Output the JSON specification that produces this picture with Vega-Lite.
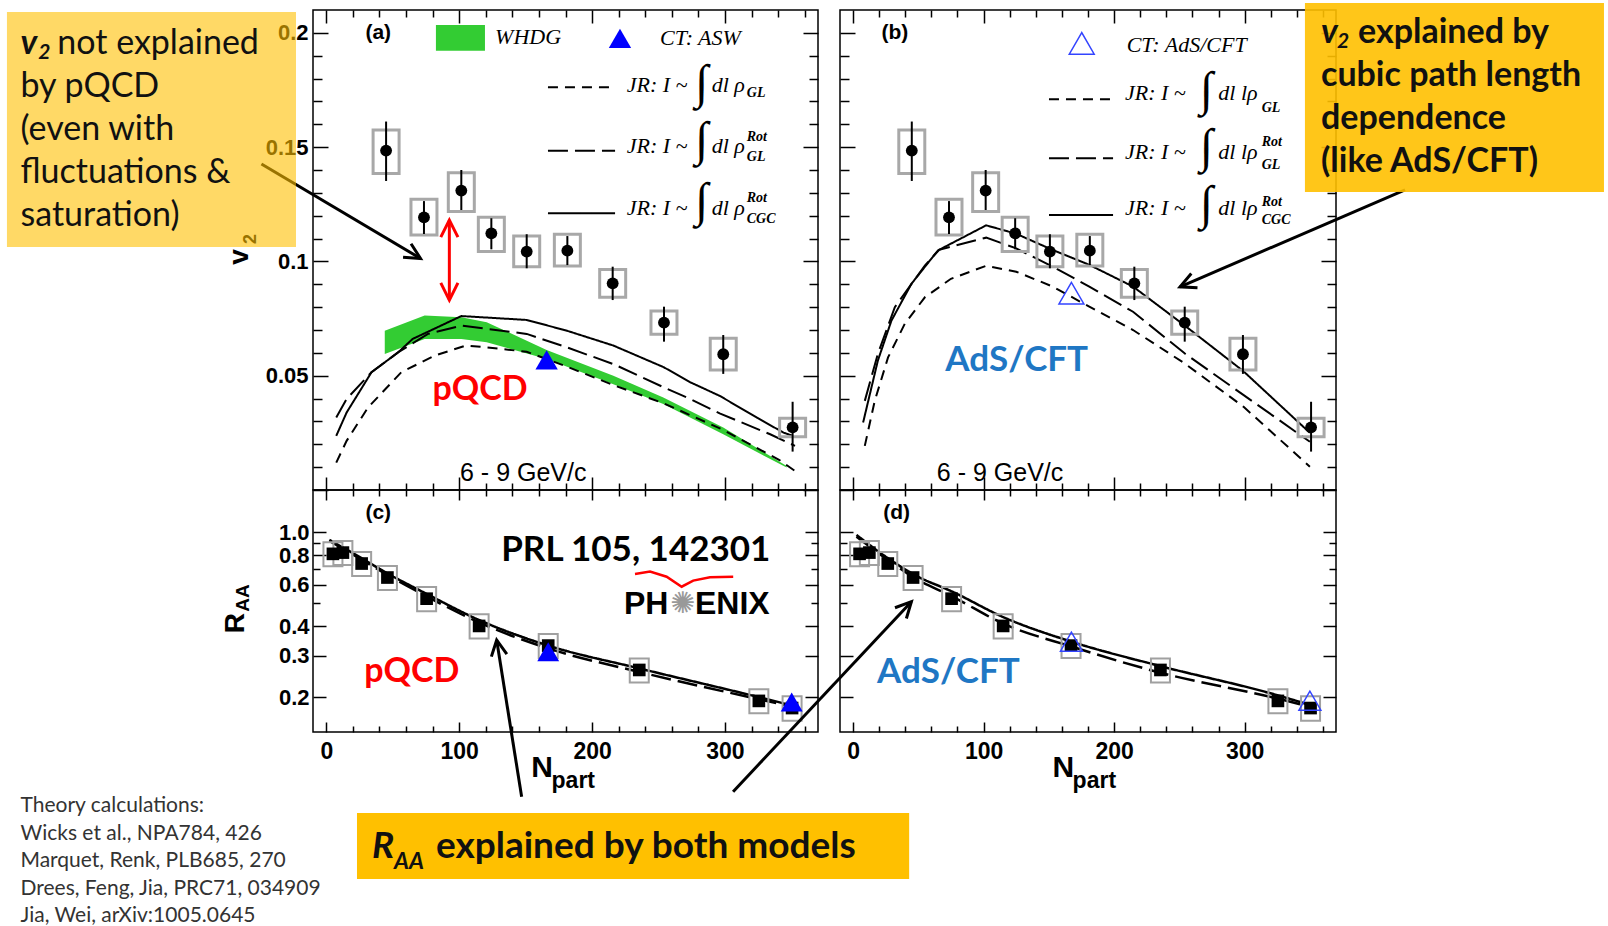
{
"$schema":"https://vega.github.io/schema/vega-lite/v6.json",
"autosize":{"type":"none"},
"padding":{"left":313,"top":10,"right":1295,"bottom":916},
"background":"white",
"config":{
 "view":{"stroke":"#000","strokeWidth":1.5},
 "scale":{"continuousPadding":0},
 "axis":{"domain":false,"grid":false,"tickColor":"#000","tickWidth":1.5,"labelFont":"Liberation Sans","labelFontWeight":"bold","labelFontSize":22,"labelColor":"#000","labelFlush":false,"labelOverlap":false}
},
"datasets":{
 "v2":[
  {"n":45,"v":0.1485,"slo":0.1352,"shi":0.1612,"ylo":0.1385,"yhi":0.1575},
  {"n":73.5,"v":0.1193,"slo":0.1120,"shi":0.1264,"ylo":0.1116,"yhi":0.1272},
  {"n":101.6,"v":0.1310,"slo":0.1225,"shi":0.1400,"ylo":0.1218,"yhi":0.1388},
  {"n":124.2,"v":0.1123,"slo":0.1053,"shi":0.1189,"ylo":0.1043,"yhi":0.1193},
  {"n":150.8,"v":0.1043,"slo":0.0970,"shi":0.1119,"ylo":0.0977,"yhi":0.1111},
  {"n":181.4,"v":0.1047,"slo":0.0984,"shi":0.1111,"ylo":0.0980,"yhi":0.1119},
  {"n":215.5,"v":0.0904,"slo":0.0831,"shi":0.0977,"ylo":0.0843,"yhi":0.0965},
  {"n":254.1,"v":0.0732,"slo":0.0649,"shi":0.0802,"ylo":0.0681,"yhi":0.0783},
  {"n":298.7,"v":0.0594,"slo":0.0508,"shi":0.0678,"ylo":0.0525,"yhi":0.0664},
  {"n":350.9,"v":0.0274,"slo":0.0168,"shi":0.0386,"ylo":0.0233,"yhi":0.0314}
 ],
 "raa":[
  {"n":5,"v":0.81,"ylo":0.717,"yhi":0.907},
  {"n":12.5,"v":0.82,"ylo":0.726,"yhi":0.918},
  {"n":26.6,"v":0.737,"ylo":0.652,"yhi":0.825},
  {"n":46,"v":0.643,"ylo":0.569,"yhi":0.720},
  {"n":75.5,"v":0.523,"ylo":0.463,"yhi":0.586},
  {"n":115,"v":0.401,"ylo":0.355,"yhi":0.449},
  {"n":167,"v":0.331,"ylo":0.293,"yhi":0.371},
  {"n":235.5,"v":0.261,"ylo":0.231,"yhi":0.292},
  {"n":325.5,"v":0.193,"ylo":0.171,"yhi":0.216},
  {"n":350.5,"v":0.180,"ylo":0.159,"yhi":0.202}
 ],
 "ta":[
  {"n":7.5,"v":0.012,"m":"GL"},{"n":15.3,"v":0.0215,"m":"GL"},{"n":31.4,"v":0.0361,"m":"GL"},{"n":56.4,"v":0.0515,"m":"GL"},{"n":81.6,"v":0.0588,"m":"GL"},{"n":105,"v":0.0632,"m":"GL"},{"n":120.7,"v":0.0624,"m":"GL"},{"n":150.8,"v":0.0605,"m":"GL"},{"n":181,"v":0.054,"m":"GL"},{"n":216,"v":0.0459,"m":"GL"},{"n":254,"v":0.0379,"m":"GL"},{"n":299,"v":0.0262,"m":"GL"},{"n":341,"v":0.0131,"m":"GL"},{"n":352.7,"v":0.0083,"m":"GL"},
  {"n":7.5,"v":0.0317,"m":"GLrot"},{"n":15.3,"v":0.0398,"m":"GLrot"},{"n":34,"v":0.0515,"m":"GLrot"},{"n":54,"v":0.0602,"m":"GLrot"},{"n":76.5,"v":0.0683,"m":"GLrot"},{"n":101.6,"v":0.0719,"m":"GLrot"},{"n":150.8,"v":0.0683,"m":"GLrot"},{"n":181,"v":0.0624,"m":"GLrot"},{"n":216,"v":0.0551,"m":"GLrot"},{"n":254,"v":0.0449,"m":"GLrot"},{"n":274,"v":0.0398,"m":"GLrot"},{"n":296,"v":0.0335,"m":"GLrot"},{"n":334,"v":0.0244,"m":"GLrot"},{"n":352.7,"v":0.0193,"m":"GLrot"},
  {"n":7.5,"v":0.0237,"m":"CGC"},{"n":15.3,"v":0.0339,"m":"CGC"},{"n":34,"v":0.0515,"m":"CGC"},{"n":54,"v":0.0602,"m":"CGC"},{"n":65,"v":0.0661,"m":"CGC"},{"n":101.6,"v":0.0761,"m":"CGC"},{"n":150.8,"v":0.0744,"m":"CGC"},{"n":181,"v":0.0697,"m":"CGC"},{"n":216,"v":0.0632,"m":"CGC"},{"n":254,"v":0.0537,"m":"CGC"},{"n":274,"v":0.0471,"m":"CGC"},{"n":296,"v":0.0412,"m":"CGC"},{"n":324,"v":0.0317,"m":"CGC"},{"n":344,"v":0.0251,"m":"CGC"},{"n":351,"v":0.0237,"m":"CGC"}
 ],
 "tb":[
  {"n":9,"v":0.0193,"m":"GL"},{"n":16.6,"v":0.039,"m":"GL"},{"n":26.8,"v":0.058,"m":"GL"},{"n":39.6,"v":0.0727,"m":"GL"},{"n":55,"v":0.0843,"m":"GL"},{"n":75,"v":0.0924,"m":"GL"},{"n":102,"v":0.0981,"m":"GL"},{"n":125,"v":0.0955,"m":"GL"},{"n":153,"v":0.089,"m":"GL"},{"n":181,"v":0.0802,"m":"GL"},{"n":214.5,"v":0.07,"m":"GL"},{"n":254,"v":0.0554,"m":"GL"},{"n":299,"v":0.0365,"m":"GL"},{"n":350,"v":0.0102,"m":"GL"},
  {"n":9,"v":0.039,"m":"GLrot"},{"n":19,"v":0.0595,"m":"GLrot"},{"n":32,"v":0.080,"m":"GLrot"},{"n":55,"v":0.0982,"m":"GLrot"},{"n":66,"v":0.1051,"m":"GLrot"},{"n":102,"v":0.1104,"m":"GLrot"},{"n":125,"v":0.1057,"m":"GLrot"},{"n":153,"v":0.0977,"m":"GLrot"},{"n":181,"v":0.089,"m":"GLrot"},{"n":214.5,"v":0.078,"m":"GLrot"},{"n":254,"v":0.0598,"m":"GLrot"},{"n":299,"v":0.0416,"m":"GLrot"},{"n":350,"v":0.0211,"m":"GLrot"},
  {"n":7.7,"v":0.0295,"m":"CGC"},{"n":19,"v":0.0566,"m":"CGC"},{"n":29.4,"v":0.0741,"m":"CGC"},{"n":44.7,"v":0.0902,"m":"CGC"},{"n":65,"v":0.1048,"m":"CGC"},{"n":102,"v":0.1158,"m":"CGC"},{"n":125,"v":0.1121,"m":"CGC"},{"n":153,"v":0.105,"m":"CGC"},{"n":181,"v":0.0985,"m":"CGC"},{"n":214.5,"v":0.089,"m":"CGC"},{"n":254,"v":0.072,"m":"CGC"},{"n":299,"v":0.052,"m":"CGC"},{"n":350,"v":0.025,"m":"CGC"}
 ],
 "tc":[
  {"n":2.3,"v":0.928,"m":"CGC"},{"n":26.6,"v":0.776,"m":"CGC"},{"n":45.9,"v":0.670,"m":"CGC"},{"n":75.5,"v":0.548,"m":"CGC"},{"n":114.9,"v":0.425,"m":"CGC"},{"n":167,"v":0.331,"m":"CGC"},{"n":235.5,"v":0.265,"m":"CGC"},{"n":325.8,"v":0.200,"m":"CGC"},{"n":351.4,"v":0.184,"m":"CGC"},
  {"n":2.3,"v":0.92,"m":"GLrot"},{"n":26.6,"v":0.765,"m":"GLrot"},{"n":45.9,"v":0.66,"m":"GLrot"},{"n":75.5,"v":0.535,"m":"GLrot"},{"n":114.9,"v":0.415,"m":"GLrot"},{"n":167,"v":0.322,"m":"GLrot"},{"n":235.5,"v":0.256,"m":"GLrot"},{"n":325.8,"v":0.196,"m":"GLrot"},{"n":351.4,"v":0.182,"m":"GLrot"}
 ],
 "td":[
  {"n":2.6,"v":0.974,"m":"CGC"},{"n":26.8,"v":0.776,"m":"CGC"},{"n":47.3,"v":0.659,"m":"CGC"},{"n":76.1,"v":0.560,"m":"CGC"},{"n":115.5,"v":0.436,"m":"CGC"},{"n":167.3,"v":0.344,"m":"CGC"},{"n":235.5,"v":0.271,"m":"CGC"},{"n":324.4,"v":0.2045,"m":"CGC"},{"n":349.9,"v":0.1855,"m":"CGC"},
  {"n":2.6,"v":0.958,"m":"GLrot"},{"n":26.8,"v":0.763,"m":"GLrot"},{"n":47.3,"v":0.639,"m":"GLrot"},{"n":76.1,"v":0.534,"m":"GLrot"},{"n":115.5,"v":0.409,"m":"GLrot"},{"n":167.3,"v":0.328,"m":"GLrot"},{"n":235.5,"v":0.254,"m":"GLrot"},{"n":324.4,"v":0.198,"m":"GLrot"},{"n":349.9,"v":0.1824,"m":"GLrot"}
 ]
},
"columns":2,
"spacing":{"row":0,"column":22},
"bounds":"flush",
"concat":[
{
"width":505,"height":480,
"resolve":{"axis":{"x":"independent","y":"independent"}},
"layer":[
 {"data":{"values":[{"n":44,"lo":0.0595,"hi":0.0697},{"n":74,"lo":0.0661,"hi":0.0763},{"n":101.6,"lo":0.0661,"hi":0.0756},{"n":120.7,"lo":0.0646,"hi":0.0734},{"n":165.8,"lo":0.0573,"hi":0.0613},{"n":216,"lo":0.0463,"hi":0.0500},{"n":253.6,"lo":0.0376,"hi":0.0405},{"n":298.7,"lo":0.0244,"hi":0.0273},{"n":346.4,"lo":0.0098,"hi":0.0105}]},
  "mark":{"type":"area","color":"#33cc33","opacity":1},
  "encoding":{"x":{"field":"n","type":"quantitative","scale":{"domain":[-10,370],"nice":false,"zero":false},"axis":null},"y":{"field":"lo","type":"quantitative","scale":{"domain":[0,0.21],"nice":false,"zero":false},"axis":null},"y2":{"field":"hi"}}},
 {"data":{"name":"ta"},"mark":{"type":"line","color":"#000","strokeWidth":2},
  "encoding":{"x":{"field":"n","type":"quantitative","scale":{"domain":[-10,370],"nice":false,"zero":false},"title":null,"axis":{"orient":"top","values":[20,40,60,80,120,140,160,180,220,240,260,280,320,340,360],"tickSize":-7,"labels":false}},
   "y":{"field":"v","type":"quantitative","scale":{"domain":[0,0.21],"nice":false,"zero":false},"title":null,"axis":{"orient":"right","values":[0.01,0.02,0.03,0.04,0.06,0.07,0.08,0.09,0.11,0.12,0.13,0.14,0.16,0.17,0.18,0.19],"tickSize":-9,"labels":false}},
   "strokeDash":{"field":"m","type":"nominal","scale":{"domain":["GL","GLrot","CGC"],"range":[[10,7],[20,7],[1,0]]},"legend":null},
   "detail":{"field":"m","type":"nominal"}}},
 {"data":{"name":"v2"},"mark":{"type":"bar","width":26,"fill":"transparent","stroke":"#a8a8a8","strokeWidth":3},
  "encoding":{"x":{"field":"n","type":"quantitative","scale":{"domain":[-10,370],"nice":false,"zero":false},"title":null,"axis":{"orient":"top","values":[0,100,200,300],"tickSize":-13,"labels":false}},
   "y":{"field":"ylo","type":"quantitative","scale":{"domain":[0,0.21],"nice":false,"zero":false},"title":null,"axis":{"orient":"right","values":[0,0.05,0.1,0.15,0.2],"tickSize":-15,"labels":false}},
   "y2":{"field":"yhi"}}},
 {"data":{"name":"v2"},"mark":{"type":"rule","color":"#000","strokeWidth":2},
  "encoding":{"x":{"field":"n","type":"quantitative","scale":{"domain":[-10,370],"nice":false,"zero":false},"title":null,"axis":{"orient":"bottom","values":[20,40,60,80,120,140,160,180,220,240,260,280,320,340,360],"tickSize":-7,"labels":false}},
   "y":{"field":"slo","type":"quantitative","scale":{"domain":[0,0.21],"nice":false,"zero":false},"title":null,"axis":{"orient":"left","values":[0.01,0.02,0.03,0.04,0.06,0.07,0.08,0.09,0.11,0.12,0.13,0.14,0.16,0.17,0.18,0.19],"tickSize":-9,"labels":false}},
   "y2":{"field":"shi"}}},
 {"data":{"name":"v2"},"mark":{"type":"point","shape":"circle","filled":true,"color":"#000","size":140,"opacity":1},
  "encoding":{"x":{"field":"n","type":"quantitative","scale":{"domain":[-10,370],"nice":false,"zero":false},"title":null,"axis":{"orient":"bottom","values":[0,100,200,300],"tickSize":-13,"labels":false}},
   "y":{"field":"v","type":"quantitative","scale":{"domain":[0,0.21],"nice":false,"zero":false},"title":null,"axis":{"orient":"left","values":[0,0.05,0.1,0.15,0.2],"tickSize":-15,"labelPadding":20,"format":"~g","labelExpr":"datum.value == 0 ? '' : datum.label"}}}},
 {"data":{"values":[{"n":165.8,"v":0.0569},{"n":221,"v":0.1976}]},"mark":{"type":"point","shape":"triangle-up","filled":true,"color":"#0000ff","size":500,"opacity":1},
  "encoding":{"x":{"field":"n","type":"quantitative","scale":{"domain":[-10,370],"nice":false,"zero":false},"axis":null},"y":{"field":"v","type":"quantitative","scale":{"domain":[0,0.21],"nice":false,"zero":false},"axis":null}}},
 {"data":{"values":[{"n":82.5,"n2":119.4,"v":0.1922,"v2":0.2034}]},"mark":{"type":"rect","color":"#33cc33"},
  "encoding":{"x":{"field":"n","type":"quantitative","scale":{"domain":[-10,370],"nice":false,"zero":false},"axis":null},"x2":{"field":"n2"},"y":{"field":"v","type":"quantitative","scale":{"domain":[0,0.21],"nice":false,"zero":false},"axis":null},"y2":{"field":"v2"}}},
 {"data":{"values":[{"n":166.8,"n2":217.3,"v":0.1762,"m":"GL"},{"n":166.8,"n2":217.3,"v":0.1484,"m":"GLrot"},{"n":166.8,"n2":217.3,"v":0.1211,"m":"CGC"}]},"mark":{"type":"rule","color":"#000","strokeWidth":2},
  "encoding":{"x":{"field":"n","type":"quantitative","scale":{"domain":[-10,370],"nice":false,"zero":false},"axis":null},"x2":{"field":"n2"},"y":{"field":"v","type":"quantitative","scale":{"domain":[0,0.21],"nice":false,"zero":false},"axis":null},
   "strokeDash":{"field":"m","type":"nominal","scale":{"domain":["GL","GLrot","CGC"],"range":[[10,7],[20,7],[1,0]]},"legend":null}}},
 {"data":{"values":[{"n":127,"v":0.1983,"t":"WHDG"},{"n":251.1,"v":0.1978,"t":"CT: ASW"},{"n":226.1,"v":0.1772,"t":"JR: I ~"},{"n":226.1,"v":0.1505,"t":"JR: I ~"},{"n":226.1,"v":0.1232,"t":"JR: I ~"},{"n":290,"v":0.1772,"t":"dl ρ"},{"n":290,"v":0.1505,"t":"dl ρ"},{"n":290,"v":0.1232,"t":"dl ρ"}]},
  "mark":{"type":"text","font":"Liberation Serif","fontStyle":"italic","fontSize":22,"align":"left","baseline":"middle","color":"#000"},
  "encoding":{"x":{"field":"n","type":"quantitative","scale":{"domain":[-10,370],"nice":false,"zero":false},"axis":null},"y":{"field":"v","type":"quantitative","scale":{"domain":[0,0.21],"nice":false,"zero":false},"axis":null},"text":{"field":"t"}}},
 {"data":{"values":[{"n":282.5,"v":0.1776,"t":"∫"},{"n":282.5,"v":0.1528,"t":"∫"},{"n":282.5,"v":0.1261,"t":"∫"}]},
  "mark":{"type":"text","font":"Liberation Serif","fontSize":48,"align":"center","baseline":"middle","color":"#000"},
  "encoding":{"x":{"field":"n","type":"quantitative","scale":{"domain":[-10,370],"nice":false,"zero":false},"axis":null},"y":{"field":"v","type":"quantitative","scale":{"domain":[0,0.21],"nice":false,"zero":false},"axis":null},"text":{"field":"t"}}},
 {"data":{"values":[{"n":316.4,"v":0.1736,"t":"GL"},{"n":316.4,"v":0.1546,"t":"Rot"},{"n":316.4,"v":0.1458,"t":"GL"},{"n":316.4,"v":0.1276,"t":"Rot"},{"n":316.4,"v":0.1184,"t":"CGC"}]},
  "mark":{"type":"text","font":"Liberation Serif","fontStyle":"italic","fontWeight":"bold","fontSize":14,"align":"left","baseline":"middle","color":"#000"},
  "encoding":{"x":{"field":"n","type":"quantitative","scale":{"domain":[-10,370],"nice":false,"zero":false},"axis":null},"y":{"field":"v","type":"quantitative","scale":{"domain":[0,0.21],"nice":false,"zero":false},"axis":null},"text":{"field":"t"}}},
 {"data":{"values":[{"n":39.1,"v":0.1998,"t":"(a)"}]},
  "mark":{"type":"text","font":"Liberation Sans","fontWeight":"bold","fontSize":21,"align":"center","baseline":"middle","color":"#000"},
  "encoding":{"x":{"field":"n","type":"quantitative","scale":{"domain":[-10,370],"nice":false,"zero":false},"axis":null},"y":{"field":"v","type":"quantitative","scale":{"domain":[0,0.21],"nice":false,"zero":false},"axis":null},"text":{"field":"t"}}},
 {"data":{"values":[{"n":148.2,"v":0.0073,"t":"6 - 9 GeV/c"}]},
  "mark":{"type":"text","font":"Liberation Sans","fontSize":25,"align":"center","baseline":"middle","color":"#000"},
  "encoding":{"x":{"field":"n","type":"quantitative","scale":{"domain":[-10,370],"nice":false,"zero":false},"axis":null},"y":{"field":"v","type":"quantitative","scale":{"domain":[0,0.21],"nice":false,"zero":false},"axis":null},"text":{"field":"t"}}},
 {"data":{"values":[{"n":115.7,"v":0.0437,"t":"pQCD"}]},
  "mark":{"type":"text","font":"Lato","fontWeight":"bold","fontSize":34,"align":"center","baseline":"middle","color":"#ff0000"},
  "encoding":{"x":{"field":"n","type":"quantitative","scale":{"domain":[-10,370],"nice":false,"zero":false},"axis":null},"y":{"field":"v","type":"quantitative","scale":{"domain":[0,0.21],"nice":false,"zero":false},"axis":null},"text":{"field":"t"}}},
 {"data":{"values":[{"n":-64.6,"v":0.1019,"t":"v"}]},
  "mark":{"type":"text","font":"Liberation Sans","fontWeight":"bold","fontSize":28,"angle":270,"align":"center","baseline":"middle","color":"#000"},
  "encoding":{"x":{"field":"n","type":"quantitative","scale":{"domain":[-10,370],"nice":false,"zero":false},"axis":null},"y":{"field":"v","type":"quantitative","scale":{"domain":[0,0.21],"nice":false,"zero":false},"axis":null},"text":{"field":"t"}}},
 {"data":{"values":[{"n":-56.7,"v":0.1098,"t":"2"}]},
  "mark":{"type":"text","font":"Liberation Sans","fontWeight":"bold","fontSize":18,"angle":270,"align":"center","baseline":"middle","color":"#000"},
  "encoding":{"x":{"field":"n","type":"quantitative","scale":{"domain":[-10,370],"nice":false,"zero":false},"axis":null},"y":{"field":"v","type":"quantitative","scale":{"domain":[0,0.21],"nice":false,"zero":false},"axis":null},"text":{"field":"t"}}},
 {"data":{"values":[{"n":-48.8,"v":0.1426,"n2":70.9,"v2":0.1013}]},"mark":{"type":"rule","color":"#000","strokeWidth":3},
  "encoding":{"x":{"field":"n","type":"quantitative","scale":{"domain":[-10,370],"nice":false,"zero":false},"axis":null},"x2":{"field":"n2"},"y":{"field":"v","type":"quantitative","scale":{"domain":[0,0.21],"nice":false,"zero":false},"axis":null},"y2":{"field":"v2"}}},
 {"data":{"values":[{"n":92.6,"v":0.1181,"n2":92.6,"v2":0.0831}]},"mark":{"type":"rule","color":"#ff0000","strokeWidth":3},
  "encoding":{"x":{"field":"n","type":"quantitative","scale":{"domain":[-10,370],"nice":false,"zero":false},"axis":null},"x2":{"field":"n2"},"y":{"field":"v","type":"quantitative","scale":{"domain":[0,0.21],"nice":false,"zero":false},"axis":null},"y2":{"field":"v2"}}},
 {"data":{"values":[{"n":70.9,"v":0.1013}]},"mark":{"type":"point","shape":"M-0.7,1.4L0,0L0.7,1.4","filled":false,"color":"#000","strokeWidth":3,"size":500,"angle":120.7,"opacity":1},
  "encoding":{"x":{"field":"n","type":"quantitative","scale":{"domain":[-10,370],"nice":false,"zero":false},"axis":null},"y":{"field":"v","type":"quantitative","scale":{"domain":[0,0.21],"nice":false,"zero":false},"axis":null}}},
 {"data":{"values":[{"n":92.6,"v":0.1181}]},"mark":{"type":"point","shape":"M-0.7,1.4L0,0L0.7,1.4","filled":false,"color":"#ff0000","strokeWidth":3,"size":600,"angle":0,"opacity":1},
  "encoding":{"x":{"field":"n","type":"quantitative","scale":{"domain":[-10,370],"nice":false,"zero":false},"axis":null},"y":{"field":"v","type":"quantitative","scale":{"domain":[0,0.21],"nice":false,"zero":false},"axis":null}}},
 {"data":{"values":[{"n":92.6,"v":0.0831}]},"mark":{"type":"point","shape":"M-0.7,1.4L0,0L0.7,1.4","filled":false,"color":"#ff0000","strokeWidth":3,"size":600,"angle":180,"opacity":1},
  "encoding":{"x":{"field":"n","type":"quantitative","scale":{"domain":[-10,370],"nice":false,"zero":false},"axis":null},"y":{"field":"v","type":"quantitative","scale":{"domain":[0,0.21],"nice":false,"zero":false},"axis":null}}},
 {"data":{"values":[{"n":-240.3,"n2":-22.8,"v":0.1063,"v2":0.2091}]},"mark":{"type":"rect","color":"#ffc000","opacity":0.6},
  "encoding":{"x":{"field":"n","type":"quantitative","scale":{"domain":[-10,370],"nice":false,"zero":false},"axis":null},"x2":{"field":"n2"},"y":{"field":"v","type":"quantitative","scale":{"domain":[0,0.21],"nice":false,"zero":false},"axis":null},"y2":{"field":"v2"}}},
 {"data":{"values":[{"n":-230.1,"v":0.1951,"t":"v"}]},
  "mark":{"type":"text","font":"Lato","fontWeight":"bold","fontStyle":"italic","fontSize":34,"align":"left","baseline":"middle","color":"#111"},
  "encoding":{"x":{"field":"n","type":"quantitative","scale":{"domain":[-10,370],"nice":false,"zero":false},"axis":null},"y":{"field":"v","type":"quantitative","scale":{"domain":[0,0.21],"nice":false,"zero":false},"axis":null},"text":{"field":"t"}}},
 {"data":{"values":[{"n":-216.7,"v":0.1912,"t":"2"}]},
  "mark":{"type":"text","font":"Lato","fontWeight":"bold","fontStyle":"italic","fontSize":21,"align":"left","baseline":"middle","color":"#111"},
  "encoding":{"x":{"field":"n","type":"quantitative","scale":{"domain":[-10,370],"nice":false,"zero":false},"axis":null},"y":{"field":"v","type":"quantitative","scale":{"domain":[0,0.21],"nice":false,"zero":false},"axis":null},"text":{"field":"t"}}},
 {"data":{"values":[{"n":-202.4,"v":0.1951,"t":"not explained"},{"n":-230.1,"v":0.1762,"t":"by pQCD"},{"n":-230.1,"v":0.1575,"t":"(even with"},{"n":-230.1,"v":0.1386,"t":"fluctuations &"},{"n":-230.1,"v":0.1197,"t":"saturation)"}]},
  "mark":{"type":"text","font":"Lato","fontSize":34,"align":"left","baseline":"middle","color":"#111"},
  "encoding":{"x":{"field":"n","type":"quantitative","scale":{"domain":[-10,370],"nice":false,"zero":false},"axis":null},"y":{"field":"v","type":"quantitative","scale":{"domain":[0,0.21],"nice":false,"zero":false},"axis":null},"text":{"field":"t"}}}
]
},
{
"width":496,"height":480,
"resolve":{"axis":{"x":"independent","y":"independent"}},
"layer":[
 {"data":{"name":"tb"},"mark":{"type":"line","color":"#000","strokeWidth":2},
  "encoding":{"x":{"field":"n","type":"quantitative","scale":{"domain":[-10,370],"nice":false,"zero":false},"title":null,"axis":{"orient":"top","values":[20,40,60,80,120,140,160,180,220,240,260,280,320,340,360],"tickSize":-7,"labels":false}},
   "y":{"field":"v","type":"quantitative","scale":{"domain":[0,0.21],"nice":false,"zero":false},"title":null,"axis":{"orient":"right","values":[0.01,0.02,0.03,0.04,0.06,0.07,0.08,0.09,0.11,0.12,0.13,0.14,0.16,0.17,0.18,0.19],"tickSize":-9,"labels":false}},
   "strokeDash":{"field":"m","type":"nominal","scale":{"domain":["GL","GLrot","CGC"],"range":[[10,7],[20,7],[1,0]]},"legend":null},
   "detail":{"field":"m","type":"nominal"}}},
 {"data":{"name":"v2"},"mark":{"type":"bar","width":26,"fill":"transparent","stroke":"#a8a8a8","strokeWidth":3},
  "encoding":{"x":{"field":"n","type":"quantitative","scale":{"domain":[-10,370],"nice":false,"zero":false},"title":null,"axis":{"orient":"top","values":[0,100,200,300],"tickSize":-13,"labels":false}},
   "y":{"field":"ylo","type":"quantitative","scale":{"domain":[0,0.21],"nice":false,"zero":false},"title":null,"axis":{"orient":"right","values":[0,0.05,0.1,0.15,0.2],"tickSize":-15,"labels":false}},
   "y2":{"field":"yhi"}}},
 {"data":{"name":"v2"},"mark":{"type":"rule","color":"#000","strokeWidth":2},
  "encoding":{"x":{"field":"n","type":"quantitative","scale":{"domain":[-10,370],"nice":false,"zero":false},"title":null,"axis":{"orient":"bottom","values":[20,40,60,80,120,140,160,180,220,240,260,280,320,340,360],"tickSize":-7,"labels":false}},
   "y":{"field":"slo","type":"quantitative","scale":{"domain":[0,0.21],"nice":false,"zero":false},"title":null,"axis":{"orient":"left","values":[0.01,0.02,0.03,0.04,0.06,0.07,0.08,0.09,0.11,0.12,0.13,0.14,0.16,0.17,0.18,0.19],"tickSize":-9,"labels":false}},
   "y2":{"field":"shi"}}},
 {"data":{"name":"v2"},"mark":{"type":"point","shape":"circle","filled":true,"color":"#000","size":140,"opacity":1},
  "encoding":{"x":{"field":"n","type":"quantitative","scale":{"domain":[-10,370],"nice":false,"zero":false},"title":null,"axis":{"orient":"bottom","values":[0,100,200,300],"tickSize":-13,"labels":false}},
   "y":{"field":"v","type":"quantitative","scale":{"domain":[0,0.21],"nice":false,"zero":false},"title":null,"axis":{"orient":"left","values":[0,0.05,0.1,0.15,0.2],"tickSize":-15,"labels":false}}}},
 {"data":{"values":[{"n":167.3,"v":0.0861},{"n":175.2,"v":0.1954}]},"mark":{"type":"point","shape":"triangle-up","filled":false,"color":"#3344ff","strokeWidth":1.5,"size":620,"opacity":1},
  "encoding":{"x":{"field":"n","type":"quantitative","scale":{"domain":[-10,370],"nice":false,"zero":false},"axis":null},"y":{"field":"v","type":"quantitative","scale":{"domain":[0,0.21],"nice":false,"zero":false},"axis":null}}},
 {"data":{"values":[{"n":150.1,"n2":199.2,"v":0.1709,"m":"GL"},{"n":150.1,"n2":199.2,"v":0.1451,"m":"GLrot"},{"n":150.1,"n2":199.2,"v":0.1203,"m":"CGC"}]},"mark":{"type":"rule","color":"#000","strokeWidth":2},
  "encoding":{"x":{"field":"n","type":"quantitative","scale":{"domain":[-10,370],"nice":false,"zero":false},"axis":null},"x2":{"field":"n2"},"y":{"field":"v","type":"quantitative","scale":{"domain":[0,0.21],"nice":false,"zero":false},"axis":null},
   "strokeDash":{"field":"m","type":"nominal","scale":{"domain":["GL","GLrot","CGC"],"range":[[10,7],[20,7],[1,0]]},"legend":null}}},
 {"data":{"values":[{"n":209.6,"v":0.1947,"t":"CT: AdS/CFT"},{"n":208.3,"v":0.1736,"t":"JR: I ~"},{"n":208.3,"v":0.148,"t":"JR: I ~"},{"n":208.3,"v":0.1232,"t":"JR: I ~"},{"n":279.8,"v":0.1736,"t":"dl lρ"},{"n":279.8,"v":0.148,"t":"dl lρ"},{"n":279.8,"v":0.1232,"t":"dl lρ"}]},
  "mark":{"type":"text","font":"Liberation Serif","fontStyle":"italic","fontSize":22,"align":"left","baseline":"middle","color":"#000"},
  "encoding":{"x":{"field":"n","type":"quantitative","scale":{"domain":[-10,370],"nice":false,"zero":false},"axis":null},"y":{"field":"v","type":"quantitative","scale":{"domain":[0,0.21],"nice":false,"zero":false},"axis":null},"text":{"field":"t"}}},
 {"data":{"values":[{"n":270.9,"v":0.1746,"t":"∫"},{"n":270.9,"v":0.1496,"t":"∫"},{"n":270.9,"v":0.1247,"t":"∫"}]},
  "mark":{"type":"text","font":"Liberation Serif","fontSize":48,"align":"center","baseline":"middle","color":"#000"},
  "encoding":{"x":{"field":"n","type":"quantitative","scale":{"domain":[-10,370],"nice":false,"zero":false},"axis":null},"y":{"field":"v","type":"quantitative","scale":{"domain":[0,0.21],"nice":false,"zero":false},"axis":null},"text":{"field":"t"}}},
 {"data":{"values":[{"n":313.1,"v":0.1670,"t":"GL"},{"n":313.1,"v":0.1524,"t":"Rot"},{"n":313.1,"v":0.1422,"t":"GL"},{"n":313.1,"v":0.1261,"t":"Rot"},{"n":313.1,"v":0.1181,"t":"CGC"}]},
  "mark":{"type":"text","font":"Liberation Serif","fontStyle":"italic","fontWeight":"bold","fontSize":14,"align":"left","baseline":"middle","color":"#000"},
  "encoding":{"x":{"field":"n","type":"quantitative","scale":{"domain":[-10,370],"nice":false,"zero":false},"axis":null},"y":{"field":"v","type":"quantitative","scale":{"domain":[0,0.21],"nice":false,"zero":false},"axis":null},"text":{"field":"t"}}},
 {"data":{"values":[{"n":32.1,"v":0.1998,"t":"(b)"}]},
  "mark":{"type":"text","font":"Liberation Sans","fontWeight":"bold","fontSize":21,"align":"center","baseline":"middle","color":"#000"},
  "encoding":{"x":{"field":"n","type":"quantitative","scale":{"domain":[-10,370],"nice":false,"zero":false},"axis":null},"y":{"field":"v","type":"quantitative","scale":{"domain":[0,0.21],"nice":false,"zero":false},"axis":null},"text":{"field":"t"}}},
 {"data":{"values":[{"n":112.6,"v":0.0073,"t":"6 - 9 GeV/c"}]},
  "mark":{"type":"text","font":"Liberation Sans","fontSize":25,"align":"center","baseline":"middle","color":"#000"},
  "encoding":{"x":{"field":"n","type":"quantitative","scale":{"domain":[-10,370],"nice":false,"zero":false},"axis":null},"y":{"field":"v","type":"quantitative","scale":{"domain":[0,0.21],"nice":false,"zero":false},"axis":null},"text":{"field":"t"}}},
 {"data":{"values":[{"n":125.4,"v":0.0569,"t":"AdS/CFT"}]},
  "mark":{"type":"text","font":"Lato","fontWeight":"bold","fontSize":35,"align":"center","baseline":"middle","color":"#1f77c4"},
  "encoding":{"x":{"field":"n","type":"quantitative","scale":{"domain":[-10,370],"nice":false,"zero":false},"axis":null},"y":{"field":"v","type":"quantitative","scale":{"domain":[0,0.21],"nice":false,"zero":false},"axis":null},"text":{"field":"t"}}},
 {"data":{"values":[{"n":422.9,"v":0.1313,"n2":250.5,"v2":0.0889}]},"mark":{"type":"rule","color":"#000","strokeWidth":3},
  "encoding":{"x":{"field":"n","type":"quantitative","scale":{"domain":[-10,370],"nice":false,"zero":false},"axis":null},"x2":{"field":"n2"},"y":{"field":"v","type":"quantitative","scale":{"domain":[0,0.21],"nice":false,"zero":false},"axis":null},"y2":{"field":"v2"}}},
 {"data":{"values":[{"n":250.5,"v":0.0889}]},"mark":{"type":"point","shape":"M-0.7,1.4L0,0L0.7,1.4","filled":false,"color":"#000","strokeWidth":3,"size":500,"angle":246.7,"opacity":1},
  "encoding":{"x":{"field":"n","type":"quantitative","scale":{"domain":[-10,370],"nice":false,"zero":false},"axis":null},"y":{"field":"v","type":"quantitative","scale":{"domain":[0,0.21],"nice":false,"zero":false},"axis":null}}},
 {"data":{"values":[{"n":346.2,"n2":575.3,"v":0.1304,"v2":0.2131}]},"mark":{"type":"rect","color":"#ffc000","opacity":0.9},
  "encoding":{"x":{"field":"n","type":"quantitative","scale":{"domain":[-10,370],"nice":false,"zero":false},"axis":null},"x2":{"field":"n2"},"y":{"field":"v","type":"quantitative","scale":{"domain":[0,0.21],"nice":false,"zero":false},"axis":null},"y2":{"field":"v2"}}},
 {"data":{"values":[{"n":358.5,"v":0.2,"t":"v"}]},
  "mark":{"type":"text","font":"Lato","fontWeight":"bold","fontStyle":"italic","fontSize":34,"align":"left","baseline":"middle","color":"#111"},
  "encoding":{"x":{"field":"n","type":"quantitative","scale":{"domain":[-10,370],"nice":false,"zero":false},"axis":null},"y":{"field":"v","type":"quantitative","scale":{"domain":[0,0.21],"nice":false,"zero":false},"axis":null},"text":{"field":"t"}}},
 {"data":{"values":[{"n":370.8,"v":0.1962,"t":"2"}]},
  "mark":{"type":"text","font":"Lato","fontWeight":"bold","fontStyle":"italic","fontSize":21,"align":"left","baseline":"middle","color":"#111"},
  "encoding":{"x":{"field":"n","type":"quantitative","scale":{"domain":[-10,370],"nice":false,"zero":false},"axis":null},"y":{"field":"v","type":"quantitative","scale":{"domain":[0,0.21],"nice":false,"zero":false},"axis":null},"text":{"field":"t"}}},
 {"data":{"values":[{"n":386.9,"v":0.2,"t":"explained by"},{"n":358.5,"v":0.1812,"t":"cubic path length"},{"n":358.5,"v":0.1623,"t":"dependence"},{"n":358.5,"v":0.1435,"t":"(like AdS/CFT)"}]},
  "mark":{"type":"text","font":"Lato","fontWeight":"bold","fontSize":34,"align":"left","baseline":"middle","color":"#111"},
  "encoding":{"x":{"field":"n","type":"quantitative","scale":{"domain":[-10,370],"nice":false,"zero":false},"axis":null},"y":{"field":"v","type":"quantitative","scale":{"domain":[0,0.21],"nice":false,"zero":false},"axis":null},"text":{"field":"t"}}}
]
},
{
"width":505,"height":242,
"resolve":{"axis":{"x":"independent","y":"independent"}},
"layer":[
 {"data":{"name":"tc"},"mark":{"type":"line","color":"#000","strokeWidth":2.5,"interpolate":"monotone"},
  "encoding":{"x":{"field":"n","type":"quantitative","scale":{"domain":[-10,370],"nice":false,"zero":false},"title":null,"axis":{"orient":"top","values":[20,40,60,80,120,140,160,180,220,240,260,280,320,340,360],"tickSize":-6,"labels":false}},
   "y":{"field":"v","type":"quantitative","scale":{"type":"log","domain":[0.1425,1.51],"nice":false},"title":null,"axis":{"orient":"right","values":[0.5,0.7,0.9],"tickSize":-7,"labels":false}},
   "strokeDash":{"field":"m","type":"nominal","scale":{"domain":["GLrot","CGC"],"range":[[20,7],[1,0]]},"legend":null},
   "detail":{"field":"m","type":"nominal"}}},
 {"data":{"name":"raa"},"mark":{"type":"bar","width":19,"fill":"transparent","stroke":"#a0a0a0","strokeWidth":2},
  "encoding":{"x":{"field":"n","type":"quantitative","scale":{"domain":[-10,370],"nice":false,"zero":false},"title":null,"axis":{"orient":"top","values":[0,100,200,300],"tickSize":-10,"labels":false}},
   "y":{"field":"ylo","type":"quantitative","scale":{"type":"log","domain":[0.1425,1.51],"nice":false},"title":null,"axis":{"orient":"right","values":[0.2,0.3,0.4,0.6,0.8,1],"tickSize":-13,"labels":false}},
   "y2":{"field":"yhi"}}},
 {"data":{"name":"raa"},"mark":{"type":"point","shape":"square","filled":true,"color":"#000","size":160,"opacity":1},
  "encoding":{"x":{"field":"n","type":"quantitative","scale":{"domain":[-10,370],"nice":false,"zero":false},"title":null,"axis":{"orient":"bottom","values":[0,100,200,300],"tickSize":-10,"labelPadding":18,"format":"d","labelFontSize":23}},
   "y":{"field":"v","type":"quantitative","scale":{"type":"log","domain":[0.1425,1.51],"nice":false},"title":null,"axis":{"orient":"left","values":[0.2,0.3,0.4,0.6,0.8,1],"tickSize":-13,"labelPadding":17,"format":".1f"}}}},
 {"data":{"values":[{"n":167,"v":0.312},{"n":350.2,"v":0.191}]},"mark":{"type":"point","shape":"triangle-up","filled":true,"color":"#0000ff","size":480,"opacity":1},
  "encoding":{"x":{"field":"n","type":"quantitative","scale":{"domain":[-10,370],"nice":false,"zero":false},"title":null,"axis":{"orient":"bottom","values":[20,40,60,80,120,140,160,180,220,240,260,280,320,340,360],"tickSize":-6,"labels":false}},
   "y":{"field":"v","type":"quantitative","scale":{"type":"log","domain":[0.1425,1.51],"nice":false},"title":null,"axis":{"orient":"left","values":[0.5,0.7,0.9],"tickSize":-7,"labels":false}}}},
 {"data":{"values":[{"n":39.1,"v":1.203,"t":"(c)"}]},
  "mark":{"type":"text","font":"Liberation Sans","fontWeight":"bold","fontSize":21,"align":"center","baseline":"middle","color":"#000"},
  "encoding":{"x":{"field":"n","type":"quantitative","scale":{"domain":[-10,370],"nice":false,"zero":false},"axis":null},"y":{"field":"v","type":"quantitative","scale":{"type":"log","domain":[0.1425,1.51],"nice":false},"axis":null},"text":{"field":"t"}}},
 {"data":{"values":[{"n":232.9,"v":0.841,"t":"PRL 105, 142301"}]},
  "mark":{"type":"text","font":"Lato","fontWeight":"bold","fontSize":35,"align":"center","baseline":"middle","color":"#000"},
  "encoding":{"x":{"field":"n","type":"quantitative","scale":{"domain":[-10,370],"nice":false,"zero":false},"axis":null},"y":{"field":"v","type":"quantitative","scale":{"type":"log","domain":[0.1425,1.51],"nice":false},"axis":null},"text":{"field":"t"}}},
 {"data":{"values":[{"n":64.3,"v":0.2566,"t":"pQCD"}]},
  "mark":{"type":"text","font":"Lato","fontWeight":"bold","fontSize":34,"align":"center","baseline":"middle","color":"#ff0000"},
  "encoding":{"x":{"field":"n","type":"quantitative","scale":{"domain":[-10,370],"nice":false,"zero":false},"axis":null},"y":{"field":"v","type":"quantitative","scale":{"type":"log","domain":[0.1425,1.51],"nice":false},"axis":null},"text":{"field":"t"}}},
 {"data":{"values":[{"n":257.4,"v":0.4966,"t":"PH"}]},
  "mark":{"type":"text","font":"Liberation Sans","fontWeight":"bold","fontSize":32,"align":"right","baseline":"middle","color":"#000"},
  "encoding":{"x":{"field":"n","type":"quantitative","scale":{"domain":[-10,370],"nice":false,"zero":false},"axis":null},"y":{"field":"v","type":"quantitative","scale":{"type":"log","domain":[0.1425,1.51],"nice":false},"axis":null},"text":{"field":"t"}}},
 {"data":{"values":[{"n":277.4,"v":0.4966,"t":"ENIX"}]},
  "mark":{"type":"text","font":"Liberation Sans","fontWeight":"bold","fontSize":32,"align":"left","baseline":"middle","color":"#000"},
  "encoding":{"x":{"field":"n","type":"quantitative","scale":{"domain":[-10,370],"nice":false,"zero":false},"axis":null},"y":{"field":"v","type":"quantitative","scale":{"type":"log","domain":[0.1425,1.51],"nice":false},"axis":null},"text":{"field":"t"}}},
 {"data":{"values":[{"n":268.0,"v":0.4966,"t":"✺"}]},
  "mark":{"type":"text","font":"DejaVu Sans","fontSize":30,"align":"center","baseline":"middle","color":"#999"},
  "encoding":{"x":{"field":"n","type":"quantitative","scale":{"domain":[-10,370],"nice":false,"zero":false},"axis":null},"y":{"field":"v","type":"quantitative","scale":{"type":"log","domain":[0.1425,1.51],"nice":false},"axis":null},"text":{"field":"t"}}},
 {"data":{"values":[{"n":232.3,"v":0.666},{"n":243.6,"v":0.681},{"n":256.1,"v":0.648},{"n":267.4,"v":0.588},{"n":276.1,"v":0.624},{"n":288.7,"v":0.645},{"n":306.2,"v":0.648}]},
  "mark":{"type":"line","color":"#ff0000","strokeWidth":2.5},
  "encoding":{"x":{"field":"n","type":"quantitative","scale":{"domain":[-10,370],"nice":false,"zero":false},"axis":null},"y":{"field":"v","type":"quantitative","scale":{"type":"log","domain":[0.1425,1.51],"nice":false},"axis":null}}},
 {"data":{"values":[{"n":-68.3,"v":0.4125,"t":"R"}]},
  "mark":{"type":"text","font":"Liberation Sans","fontWeight":"bold","fontSize":28,"angle":270,"align":"center","baseline":"middle","color":"#000"},
  "encoding":{"x":{"field":"n","type":"quantitative","scale":{"domain":[-10,370],"nice":false,"zero":false},"axis":null},"y":{"field":"v","type":"quantitative","scale":{"type":"log","domain":[0.1425,1.51],"nice":false},"axis":null},"text":{"field":"t"}}},
 {"data":{"values":[{"n":-62.7,"v":0.5266,"t":"AA"}]},
  "mark":{"type":"text","font":"Liberation Sans","fontWeight":"bold","fontSize":19,"angle":270,"align":"center","baseline":"middle","color":"#000"},
  "encoding":{"x":{"field":"n","type":"quantitative","scale":{"domain":[-10,370],"nice":false,"zero":false},"axis":null},"y":{"field":"v","type":"quantitative","scale":{"type":"log","domain":[0.1425,1.51],"nice":false},"axis":null},"text":{"field":"t"}}},
 {"data":{"values":[{"n":162.3,"v":0.1003,"t":"N"}]},
  "mark":{"type":"text","font":"Liberation Sans","fontWeight":"bold","fontSize":30,"align":"center","baseline":"middle","color":"#000"},
  "encoding":{"x":{"field":"n","type":"quantitative","scale":{"domain":[-10,370],"nice":false,"zero":false},"axis":null},"y":{"field":"v","type":"quantitative","scale":{"type":"log","domain":[0.1425,1.51],"nice":false},"axis":null},"text":{"field":"t"}}},
 {"data":{"values":[{"n":169.5,"v":0.0883,"t":"part"}]},
  "mark":{"type":"text","font":"Liberation Sans","fontWeight":"bold","fontSize":23,"align":"left","baseline":"middle","color":"#000"},
  "encoding":{"x":{"field":"n","type":"quantitative","scale":{"domain":[-10,370],"nice":false,"zero":false},"axis":null},"y":{"field":"v","type":"quantitative","scale":{"type":"log","domain":[0.1425,1.51],"nice":false},"axis":null},"text":{"field":"t"}}},
 {"data":{"values":[{"n":147,"v":0.0758,"n2":128.2,"v2":0.3497}]},"mark":{"type":"rule","color":"#000","strokeWidth":3},
  "encoding":{"x":{"field":"n","type":"quantitative","scale":{"domain":[-10,370],"nice":false,"zero":false},"axis":null},"x2":{"field":"n2"},"y":{"field":"v","type":"quantitative","scale":{"type":"log","domain":[0.1425,1.51],"nice":false},"axis":null},"y2":{"field":"v2"}}},
 {"data":{"values":[{"n":128.2,"v":0.3497}]},"mark":{"type":"point","shape":"M-0.7,1.4L0,0L0.7,1.4","filled":false,"color":"#000","strokeWidth":3,"size":500,"angle":351,"opacity":1},
  "encoding":{"x":{"field":"n","type":"quantitative","scale":{"domain":[-10,370],"nice":false,"zero":false},"axis":null},"y":{"field":"v","type":"quantitative","scale":{"type":"log","domain":[0.1425,1.51],"nice":false},"axis":null}}},
 {"data":{"values":[{"n":23.1,"n2":438.6,"v":0.034,"v2":0.0646}]},"mark":{"type":"rect","color":"#ffc000","opacity":1},
  "encoding":{"x":{"field":"n","type":"quantitative","scale":{"domain":[-10,370],"nice":false,"zero":false},"axis":null},"x2":{"field":"n2"},"y":{"field":"v","type":"quantitative","scale":{"type":"log","domain":[0.1425,1.51],"nice":false},"axis":null},"y2":{"field":"v2"}}},
 {"data":{"values":[{"n":34.4,"v":0.0464,"t":"R"}]},
  "mark":{"type":"text","font":"Lato","fontWeight":"bold","fontStyle":"italic","fontSize":37,"align":"left","baseline":"middle","color":"#111"},
  "encoding":{"x":{"field":"n","type":"quantitative","scale":{"domain":[-10,370],"nice":false,"zero":false},"axis":null},"y":{"field":"v","type":"quantitative","scale":{"type":"log","domain":[0.1425,1.51],"nice":false},"axis":null},"text":{"field":"t"}}},
 {"data":{"values":[{"n":51.0,"v":0.0401,"t":"AA"}]},
  "mark":{"type":"text","font":"Lato","fontWeight":"bold","fontStyle":"italic","fontSize":23,"align":"left","baseline":"middle","color":"#111"},
  "encoding":{"x":{"field":"n","type":"quantitative","scale":{"domain":[-10,370],"nice":false,"zero":false},"axis":null},"y":{"field":"v","type":"quantitative","scale":{"type":"log","domain":[0.1425,1.51],"nice":false},"axis":null},"text":{"field":"t"}}},
 {"data":{"values":[{"n":82.5,"v":0.0464,"t":"explained by both models"}]},
  "mark":{"type":"text","font":"Lato","fontWeight":"bold","fontSize":37,"align":"left","baseline":"middle","color":"#111"},
  "encoding":{"x":{"field":"n","type":"quantitative","scale":{"domain":[-10,370],"nice":false,"zero":false},"axis":null},"y":{"field":"v","type":"quantitative","scale":{"type":"log","domain":[0.1425,1.51],"nice":false},"axis":null},"text":{"field":"t"}}},
 {"data":{"values":[{"n":-230.1,"v":0.0771,"t":"Theory calculations:\nWicks et al., NPA784, 426\nMarquet, Renk, PLB685, 270\nDrees, Feng, Jia, PRC71, 034909\nJia, Wei, arXiv:1005.0645"}]},
  "mark":{"type":"text","font":"Lato","fontSize":21,"align":"left","baseline":"top","lineBreak":"\n","lineHeight":27.6,"color":"#333"},
  "encoding":{"x":{"field":"n","type":"quantitative","scale":{"domain":[-10,370],"nice":false,"zero":false},"axis":null},"y":{"field":"v","type":"quantitative","scale":{"type":"log","domain":[0.1425,1.51],"nice":false},"axis":null},"text":{"field":"t"}}}
]
},
{
"width":496,"height":242,
"resolve":{"axis":{"x":"independent","y":"independent"}},
"layer":[
 {"data":{"name":"td"},"mark":{"type":"line","color":"#000","strokeWidth":2.5,"interpolate":"monotone"},
  "encoding":{"x":{"field":"n","type":"quantitative","scale":{"domain":[-10,370],"nice":false,"zero":false},"title":null,"axis":{"orient":"top","values":[20,40,60,80,120,140,160,180,220,240,260,280,320,340,360],"tickSize":-6,"labels":false}},
   "y":{"field":"v","type":"quantitative","scale":{"type":"log","domain":[0.1425,1.51],"nice":false},"title":null,"axis":{"orient":"right","values":[0.5,0.7,0.9],"tickSize":-7,"labels":false}},
   "strokeDash":{"field":"m","type":"nominal","scale":{"domain":["GLrot","CGC"],"range":[[20,7],[1,0]]},"legend":null},
   "detail":{"field":"m","type":"nominal"}}},
 {"data":{"name":"raa"},"mark":{"type":"bar","width":19,"fill":"transparent","stroke":"#a0a0a0","strokeWidth":2},
  "encoding":{"x":{"field":"n","type":"quantitative","scale":{"domain":[-10,370],"nice":false,"zero":false},"title":null,"axis":{"orient":"top","values":[0,100,200,300],"tickSize":-10,"labels":false}},
   "y":{"field":"ylo","type":"quantitative","scale":{"type":"log","domain":[0.1425,1.51],"nice":false},"title":null,"axis":{"orient":"right","values":[0.2,0.3,0.4,0.6,0.8,1],"tickSize":-13,"labels":false}},
   "y2":{"field":"yhi"}}},
 {"data":{"name":"raa"},"mark":{"type":"point","shape":"square","filled":true,"color":"#000","size":160,"opacity":1},
  "encoding":{"x":{"field":"n","type":"quantitative","scale":{"domain":[-10,370],"nice":false,"zero":false},"title":null,"axis":{"orient":"bottom","values":[0,100,200,300],"tickSize":-10,"labelPadding":18,"format":"d","labelFontSize":23}},
   "y":{"field":"v","type":"quantitative","scale":{"type":"log","domain":[0.1425,1.51],"nice":false},"title":null,"axis":{"orient":"left","values":[0.2,0.3,0.4,0.6,0.8,1],"tickSize":-13,"labels":false}}}},
 {"data":{"values":[{"n":167.3,"v":0.344},{"n":350,"v":0.1934}]},"mark":{"type":"point","shape":"triangle-up","filled":false,"color":"#3344ff","strokeWidth":1.5,"size":480,"opacity":1},
  "encoding":{"x":{"field":"n","type":"quantitative","scale":{"domain":[-10,370],"nice":false,"zero":false},"title":null,"axis":{"orient":"bottom","values":[20,40,60,80,120,140,160,180,220,240,260,280,320,340,360],"tickSize":-6,"labels":false}},
   "y":{"field":"v","type":"quantitative","scale":{"type":"log","domain":[0.1425,1.51],"nice":false},"title":null,"axis":{"orient":"left","values":[0.5,0.7,0.9],"tickSize":-7,"labels":false}}}},
 {"data":{"values":[{"n":33.4,"v":1.203,"t":"(d)"}]},
  "mark":{"type":"text","font":"Liberation Sans","fontWeight":"bold","fontSize":21,"align":"center","baseline":"middle","color":"#000"},
  "encoding":{"x":{"field":"n","type":"quantitative","scale":{"domain":[-10,370],"nice":false,"zero":false},"axis":null},"y":{"field":"v","type":"quantitative","scale":{"type":"log","domain":[0.1425,1.51],"nice":false},"axis":null},"text":{"field":"t"}}},
 {"data":{"values":[{"n":73.0,"v":0.2566,"t":"AdS/CFT"}]},
  "mark":{"type":"text","font":"Lato","fontWeight":"bold","fontSize":35,"align":"center","baseline":"middle","color":"#1f77c4"},
  "encoding":{"x":{"field":"n","type":"quantitative","scale":{"domain":[-10,370],"nice":false,"zero":false},"axis":null},"y":{"field":"v","type":"quantitative","scale":{"type":"log","domain":[0.1425,1.51],"nice":false},"axis":null},"text":{"field":"t"}}},
 {"data":{"values":[{"n":161.1,"v":0.1003,"t":"N"}]},
  "mark":{"type":"text","font":"Liberation Sans","fontWeight":"bold","fontSize":30,"align":"center","baseline":"middle","color":"#000"},
  "encoding":{"x":{"field":"n","type":"quantitative","scale":{"domain":[-10,370],"nice":false,"zero":false},"axis":null},"y":{"field":"v","type":"quantitative","scale":{"type":"log","domain":[0.1425,1.51],"nice":false},"axis":null},"text":{"field":"t"}}},
 {"data":{"values":[{"n":168.2,"v":0.0883,"t":"part"}]},
  "mark":{"type":"text","font":"Liberation Sans","fontWeight":"bold","fontSize":23,"align":"left","baseline":"middle","color":"#000"},
  "encoding":{"x":{"field":"n","type":"quantitative","scale":{"domain":[-10,370],"nice":false,"zero":false},"axis":null},"y":{"field":"v","type":"quantitative","scale":{"type":"log","domain":[0.1425,1.51],"nice":false},"axis":null},"text":{"field":"t"}}},
 {"data":{"values":[{"n":-91.9,"v":0.0796,"n2":44.7,"v2":0.508}]},"mark":{"type":"rule","color":"#000","strokeWidth":3},
  "encoding":{"x":{"field":"n","type":"quantitative","scale":{"domain":[-10,370],"nice":false,"zero":false},"axis":null},"x2":{"field":"n2"},"y":{"field":"v","type":"quantitative","scale":{"type":"log","domain":[0.1425,1.51],"nice":false},"axis":null},"y2":{"field":"v2"}}},
 {"data":{"values":[{"n":44.7,"v":0.508}]},"mark":{"type":"point","shape":"M-0.7,1.4L0,0L0.7,1.4","filled":false,"color":"#000","strokeWidth":3,"size":500,"angle":43.2,"opacity":1},
  "encoding":{"x":{"field":"n","type":"quantitative","scale":{"domain":[-10,370],"nice":false,"zero":false},"axis":null},"y":{"field":"v","type":"quantitative","scale":{"type":"log","domain":[0.1425,1.51],"nice":false},"axis":null}}}
]
}
]
}
